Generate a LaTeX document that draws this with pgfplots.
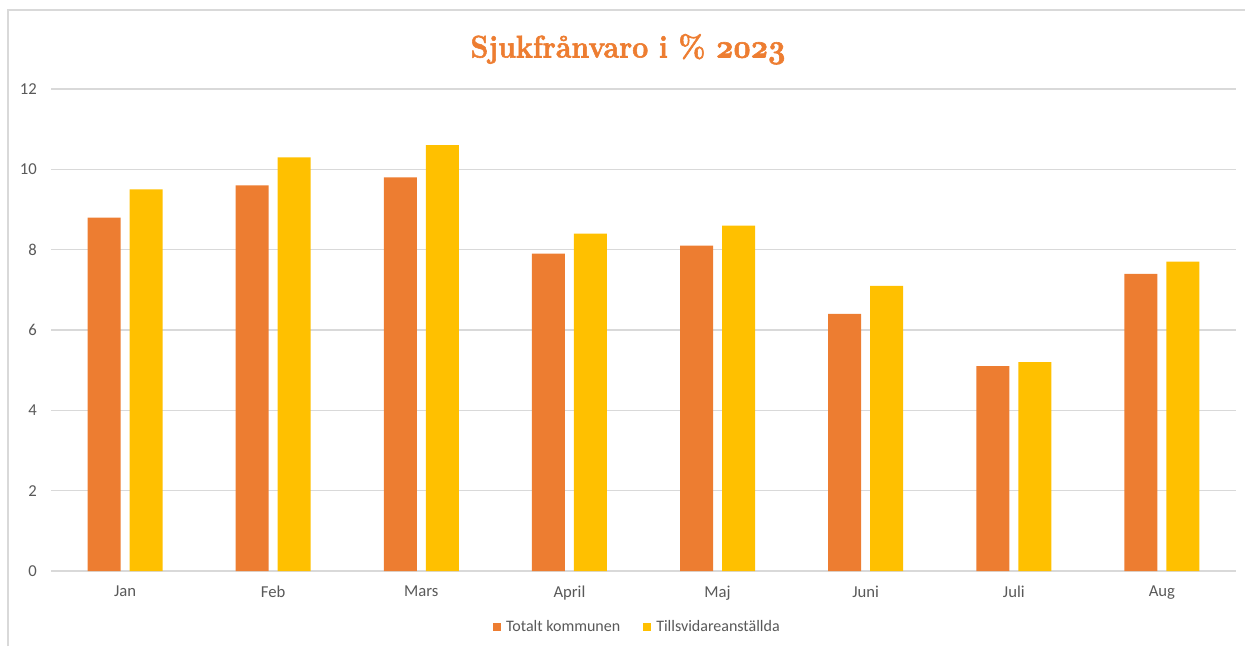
\documentclass[border=0pt]{standalone}
\usepackage{fontspec}
\usepackage{graphicx}
\usepackage{pgfplots}
\pgfplotsset{compat=1.18}
\setsansfont{Carlito}
\definecolor{orng}{HTML}{ED7D31}
\definecolor{yell}{HTML}{FFC000}
\definecolor{gridc}{HTML}{D9D9D9}
\definecolor{txt}{HTML}{595959}
\begin{document}
\begin{tikzpicture}
\begin{scope}[x=0.75pt,y=0.75pt]
\path[use as bounding box] (0,0) rectangle (1245,646);
\draw[gridc, line width=1.1pt] (8,0) -- (8,636) -- (1245,636);
\node[orng] at (628,597) {\scalebox{0.91}[1]{\fontsize{23.5}{28}\selectfont\bfseries\special{pdf:literal direct 2 Tr 0.45 w}Sjukfrånvaro i \% {\usefont{OML}{cmm}{b}{it}2023}\special{pdf:literal direct 0 Tr}}};
\end{scope}
\begin{axis}[
  at={(38.25pt,56.25pt)}, anchor=south west, scale only axis,
  width=888.75pt, height=361.5pt,
  ybar=6.75pt, bar width=24.75pt,
  xmin=-0.5, xmax=7.5, ymin=0, ymax=12,
  xtick={0,...,7}, xticklabels={Jan,Feb,Mars,April,Maj,Juni,Juli,Aug},
  ytick={0,2,...,12},
  ymajorgrids, grid style={gridc, line width=0.9pt},
  axis line style={draw=none}, major tick length=0,
  /pgf/number format/assume math mode=true,
  tick label style={font=\sffamily\fontsize{12.5}{15}\selectfont, text=txt},
  yticklabel style={inner sep=0pt, xshift=-10.5pt},
  xticklabel style={inner sep=0pt, yshift=-11pt},
  legend style={at={(0.495,-0.116)}, anchor=center, draw=none, legend columns=-1,
    font=\sffamily\fontsize{12}{14}\selectfont, text=txt,
    /tikz/every even column/.append style={column sep=15pt},
    /tikz/every odd column/.append style={column sep=2pt}},
]
\addplot[fill=orng, draw=none, legend image code/.code={\fill[orng] (0pt,-3pt) rectangle (6pt,3pt);}] coordinates {(0,8.8) (1,9.6) (2,9.8) (3,7.9) (4,8.1) (5,6.4) (6,5.1) (7,7.4)};
\addplot[fill=yell, draw=none, legend image code/.code={\fill[yell] (0pt,-3pt) rectangle (6pt,3pt);}] coordinates {(0,9.5) (1,10.3) (2,10.6) (3,8.4) (4,8.6) (5,7.1) (6,5.2) (7,7.7)};
\legend{Totalt kommunen, Tillsvidareanställda}
\end{axis}
\end{tikzpicture}
\end{document}
